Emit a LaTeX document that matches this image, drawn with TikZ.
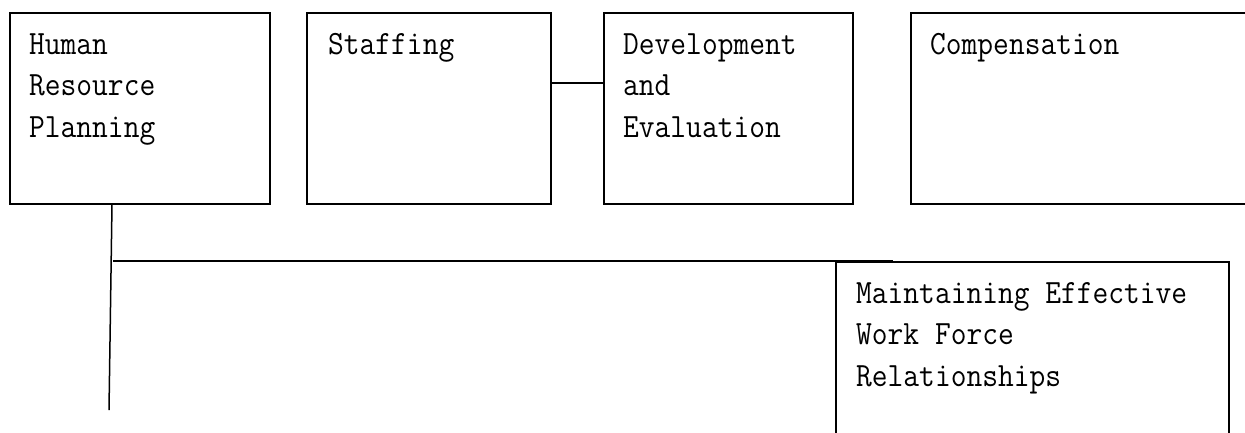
\documentclass[tikz,border=0pt]{standalone}
\usepackage{fontspec}
\setmonofont[FakeStretch=0.9]{Latin Modern Mono}
\newcommand{\mylines}[1]{\vtop{\baselineskip=41.5pt\lineskiplimit=-100pt #1}}
\begin{document}
\begin{tikzpicture}[x=1pt,y=-1pt,
  cell/.style={draw,line width=1.5pt,rectangle,inner sep=0pt,anchor=north west},
  label/.style={anchor=base west,inner sep=0pt,font=\fontsize{34}{41.5}\selectfont\ttfamily},
  link/.style={line width=1.5pt}]
\clip (0,0) rectangle (1245,432);
\node[cell,minimum width=260pt,minimum height=191pt] (hrp) at (9,12) {};
\node[cell,minimum width=244pt,minimum height=191pt] (staff) at (306,12) {};
\node[cell,minimum width=249pt,minimum height=191pt] (dev) at (603,12) {};
\node[cell,minimum width=345pt,minimum height=191pt] (comp) at (910,12) {};
\node[cell,minimum width=393pt,minimum height=190pt] (maint) at (835,261) {};
\node[label] (thrp) at (29,54) {\mylines{\hbox{Human}\hbox{Resource}\hbox{Planning}}};
\node[label] (tstaff) at (328,54) {Staffing};
\node[label] (tdev) at (623,54) {\mylines{\hbox{Development}\hbox{and}\hbox{Evaluation}}};
\node[label] (tcomp) at (930,54) {Compensation};
\node[label] (tmaint) at (856,303) {\mylines{\hbox{Maintaining Effective}\hbox{Work Force}\hbox{Relationships}}};
\path (staff.north east) ++(0,71) coordinate (s1);
\draw[link] (s1) -- (s1 -| dev.west);
\path (hrp.south west) ++(103,0) coordinate (v0);
\coordinate (v1) at (109,410);
\draw[link] (v0) -- (v1);
\coordinate (h0) at (113,261);
\draw[link] (h0) -- (h0 -| maint.north west) -- ++(58,0);
\end{tikzpicture}
\end{document}
